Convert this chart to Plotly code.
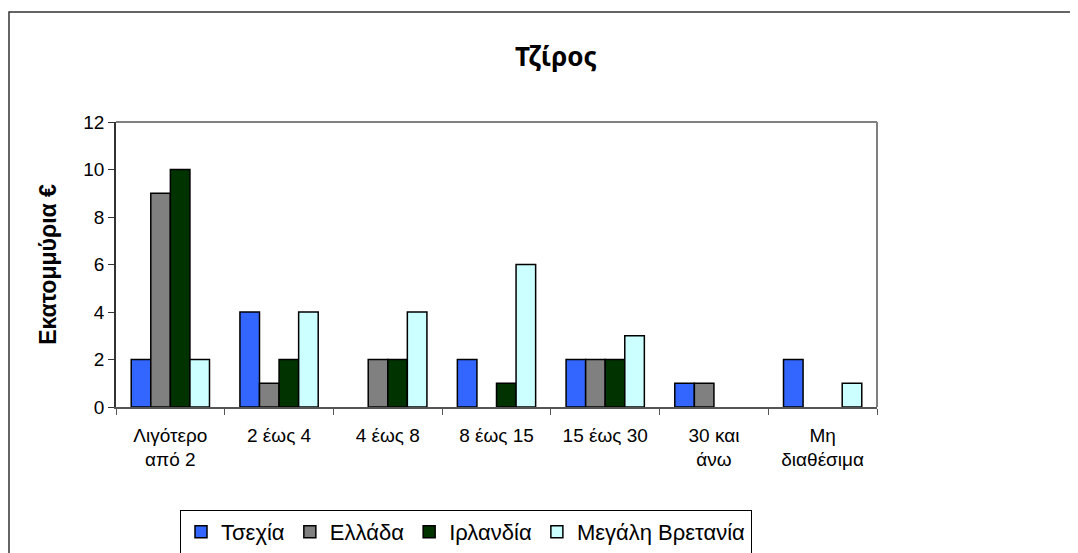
import plotly.graph_objects as go

categories = ["Λιγότερο<br>από 2", "2 έως 4", "4 έως 8", "8 έως 15", "15 έως 30", "30 και<br>άνω", "Μη<br>διαθέσιμα"]
czech = [2, 4, 0, 2, 2, 1, 2]
greece = [9, 1, 2, 0, 2, 1, 0]
ireland = [10, 2, 2, 1, 2, 0, 0]
britain = [2, 4, 4, 6, 3, 0, 1]

series = [
    ("Τσεχία", czech, "#3366FF"),
    ("Ελλάδα", greece, "#808080"),
    ("Ιρλανδία", ireland, "#003300"),
    ("Μεγάλη Βρετανία", britain, "#CCFFFF"),
]

# page has an 8px body margin, so the figure is drawn 8px smaller
W, H = 1070, 545
left, top, right, bottom = 108, 114, 869, 399
pw, ph = right - left, bottom - top

fig = go.Figure()
for name, vals, color in series:
    fig.add_trace(go.Bar(
        x=categories, y=vals, name=name,
        # no outline on empty bars
        marker=dict(color=color, line=dict(color="black", width=[1.5 if v else 0 for v in vals])),
    ))

font_family = "Liberation Sans, Arial, sans-serif"

fig.update_layout(
    width=W, height=H,
    margin=dict(l=left, r=W - right, t=top, b=H - bottom, autoexpand=False),
    paper_bgcolor="white", plot_bgcolor="white",
    barmode="group", bargap=0.28, bargroupgap=0,
    font=dict(family=font_family, size=19, color="black"),
    showlegend=True,
    title=dict(text="<b>Τζίρος</b>", x=(548 - left) / pw, xref="paper", xanchor="center",
               y=1 - 49 / H, yanchor="middle",
               font=dict(family="Noto Sans, Open Sans, sans-serif", size=26)),
    xaxis=dict(
        showline=True, linecolor="#555555", linewidth=1.5,
        ticks="outside", tickson="boundaries", ticklen=6, tickcolor="#555555",
        tickfont=dict(size=19), ticklabelstandoff=10,
        showgrid=False,
    ),
    yaxis=dict(
        range=[0, 12], dtick=2, showline=True, linecolor="#333333", linewidth=1.5,
        ticks="outside", ticklen=6, tickcolor="#333333", showgrid=False, zeroline=False,
        tickfont=dict(size=19),
        title=dict(text="<b>Εκατομμύρια €</b>", font=dict(size=23), standoff=20),
    ),
    legend=dict(
        orientation="h", x=(172 - left) / pw, xanchor="left",
        y=-(502 - bottom) / ph, yanchor="top",
        bordercolor="black", borderwidth=1, bgcolor="white",
        font=dict(size=22), traceorder="normal",
    ),
    shapes=[
        # plot-area border top and right
        dict(type="line", xref="paper", yref="paper", x0=0, x1=1, y0=1, y1=1,
             line=dict(color="#808080", width=2)),
        dict(type="line", xref="paper", yref="paper", x0=1, x1=1, y0=0, y1=1,
             line=dict(color="#808080", width=2)),
        # outer chart frame
        dict(type="rect", xref="paper", yref="paper",
             x0=-(left - 1) / pw, x1=1.5, y0=-1, y1=1 + (top - 4) / ph,
             line=dict(color="#333333", width=1.5), layer="below"),
    ],
)

fig.write_html("out.html")
